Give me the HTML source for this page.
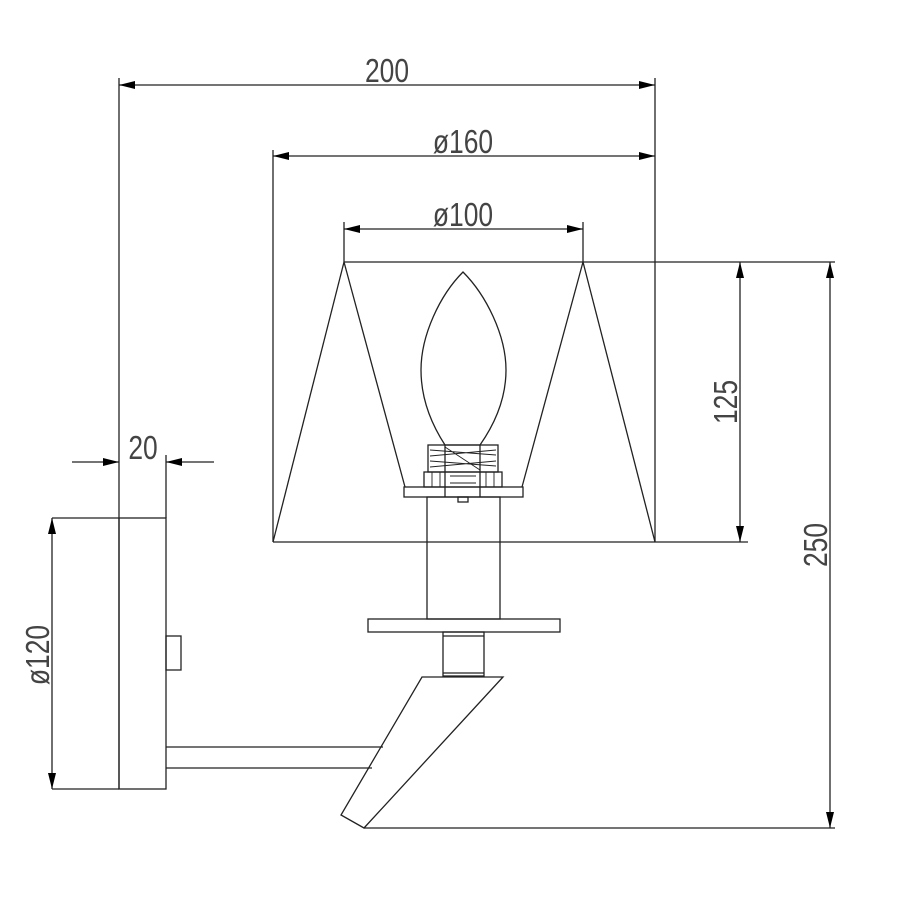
<!DOCTYPE html>
<html><head><style>html,body{margin:0;padding:0;background:#fff}svg{display:block}</style></head><body>
<svg width="900" height="900" viewBox="0 0 900 900" xmlns="http://www.w3.org/2000/svg">
<defs>
<marker id="a" viewBox="0 0 16 8" refX="16" refY="4" markerWidth="16" markerHeight="8" markerUnits="userSpaceOnUse" orient="auto-start-reverse"><path d="M0,0L16,4L0,8Z" fill="#000"/></marker>
</defs>
<g stroke="#222" stroke-width="1.3" fill="none">
<line x1="119" y1="78" x2="119" y2="789"/>
<line x1="655" y1="78" x2="655" y2="542"/>
<line x1="273" y1="150" x2="273" y2="542"/>
<line x1="344" y1="222" x2="344" y2="262"/>
<line x1="583" y1="222" x2="583" y2="262"/>
<line x1="166" y1="455" x2="166" y2="518"/>
<line x1="119" y1="85" x2="655" y2="85" marker-start="url(#a)" marker-end="url(#a)"/>
<line x1="273" y1="156" x2="655" y2="156" marker-start="url(#a)" marker-end="url(#a)"/>
<line x1="344" y1="229" x2="583" y2="229" marker-start="url(#a)" marker-end="url(#a)"/>
<line x1="740" y1="262" x2="740" y2="542" marker-start="url(#a)" marker-end="url(#a)"/>
<line x1="830" y1="262" x2="830" y2="828" marker-start="url(#a)" marker-end="url(#a)"/>
<line x1="52" y1="518" x2="52" y2="789" marker-start="url(#a)" marker-end="url(#a)"/>
<line x1="72" y1="462" x2="119" y2="462" marker-end="url(#a)"/>
<line x1="214" y1="462" x2="166" y2="462" marker-end="url(#a)"/>
<line x1="344" y1="262" x2="835" y2="262"/>
<line x1="273" y1="542" x2="748" y2="542"/>
<line x1="344" y1="262" x2="273" y2="542"/>
<line x1="583" y1="262" x2="655" y2="542"/>
<line x1="344" y1="262" x2="405" y2="487"/>
<line x1="583" y1="262" x2="522" y2="487"/>
<path d="M463,272 C440,295 421,335 421,370 C421,400 432,425 445,445 L480,445 C494,425 506,400 506,370 C506,335 486,295 463,272 Z"/>
<rect x="428" y="445" width="70" height="27"/>
<path d="M430,450 L496,455 M430,456 L496,450 M430,461 L496,466 M430,467 L496,461 M445,447 L480,470" stroke-width="0.9"/>
<line x1="445" y1="445" x2="445" y2="497"/><line x1="480" y1="445" x2="480" y2="497"/>
<rect x="424" y="472" width="78" height="15"/>
<path d="M432,472v15M440,472v15M486,472v15M494,472v15M450,476h26M450,483h26" stroke-width="0.9"/>
<rect x="404" y="487" width="119" height="10"/>
<rect x="458" y="497" width="10" height="5"/>
<rect x="427" y="497" width="73" height="122"/>
<rect x="368" y="619" width="192" height="13"/>
<rect x="443" y="632" width="41" height="44"/>
<line x1="443" y1="636" x2="484" y2="636"/><line x1="443" y1="673" x2="484" y2="673"/>
<path d="M422,677 L503,677 L364,828 L341,815 Z"/>
<line x1="364" y1="828" x2="835" y2="828"/>
<line x1="166" y1="747" x2="383" y2="747"/>
<line x1="166" y1="768" x2="372" y2="768"/>
<rect x="119" y="518" width="47" height="271"/>
<line x1="52" y1="518" x2="119" y2="518"/><line x1="52" y1="789" x2="119" y2="789"/>
<rect x="166" y="636" width="15" height="34"/>
</g>
<g font-family="Liberation Sans, sans-serif" font-size="33" fill="#444">
<text transform="translate(387,82) scale(0.8,1)" text-anchor="middle">200</text>
<text transform="translate(463,153) scale(0.8,1)" text-anchor="middle">ø160</text>
<text transform="translate(463,226) scale(0.8,1)" text-anchor="middle">ø100</text>
<text transform="translate(143,459) scale(0.8,1)" text-anchor="middle">20</text>
<text transform="translate(737,402) rotate(-90) scale(0.8,1)" text-anchor="middle">125</text>
<text transform="translate(827,545) rotate(-90) scale(0.8,1)" text-anchor="middle">250</text>
<text transform="translate(49,655) rotate(-90) scale(0.8,1)" text-anchor="middle">ø120</text>
</g>
</svg>
</body></html>
